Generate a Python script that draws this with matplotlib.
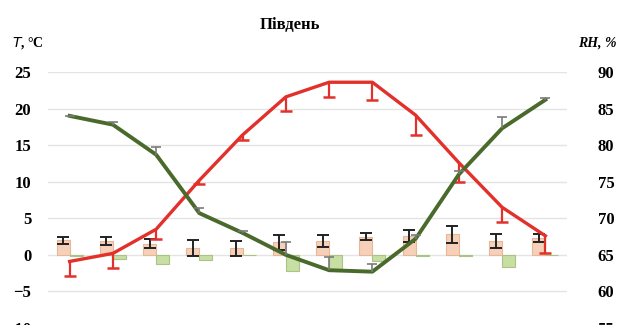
import matplotlib
matplotlib.use("Agg")
import matplotlib.pyplot as plt
import numpy as np

months = list(range(12))
temp = [-0.9, 0.2, 3.5, 10.2, 16.4, 21.6, 23.6, 23.6, 19.1, 12.6, 6.5, 2.6]
temp_err = [2.0, 2.0, 1.3, 0.5, 0.7, 2.0, 2.0, 2.4, 2.7, 2.6, 2.0, 2.4]
rh = [84.0, 82.8, 78.7, 70.7, 68.0, 65.0, 62.9, 62.7, 67.2, 76.0, 82.3, 86.2]
rh_err = [0.0, 0.4, 1.0, 0.7, 0.3, 1.8, 1.8, 1.0, 0.5, 0.5, 1.6, 0.2]
bar_a = [2.0, 1.9, 1.5, 0.9, 0.9, 1.7, 1.9, 2.5, 2.6, 2.8, 1.9, 2.3]
bar_a_err = [0.5, 0.6, 0.6, 1.1, 1.0, 1.0, 0.8, 0.5, 0.8, 1.2, 0.9, 0.6]
bar_b = [-0.1, -0.5, -1.2, -0.7, -0.05, -2.2, -2.1, -0.9, -0.1, -0.1, -1.6, -0.05]
left_ticks = [-10, -5, 0, 5, 10, 15, 20, 25]
right_ticks = [55, 60, 65, 70, 75, 80, 85, 90]

RED = "#e2302b"
GREEN = "#4a6a2c"
serif = "Liberation Serif"

fig = plt.figure(figsize=(6.19, 3.25), dpi=100)
ax = fig.add_axes([48/619, -3/325, 519/619, 256/325])
ax2 = ax.twinx()

x = np.array(months)
ax.bar(x - 0.15, bar_a, width=0.3, color="#f6d0b8", edgecolor="#e7b79a", linewidth=0.8, zorder=2)
ax.errorbar(x - 0.15, bar_a, yerr=bar_a_err, fmt="none", ecolor="#222222", elinewidth=1.4, capsize=4, capthick=1.4, zorder=3)
ax.bar(x + 0.15, bar_b, width=0.3, color="#c8dfa4", edgecolor="#a9c485", linewidth=0.8, zorder=2)

ax.plot(x, temp, color=RED, lw=2.4, zorder=4)
eb = ax.errorbar(x, temp, yerr=[temp_err, [0]*12], fmt="none", ecolor=RED, elinewidth=1.6, capsize=4.5, capthick=1.8, zorder=4)
eb[1][1].set_visible(False)  # no cap on the zero-length upper side

ax2.plot(x, rh, color=GREEN, lw=2.8, zorder=5)
eb2 = ax2.errorbar(x, rh, yerr=[[0]*12, rh_err], fmt="none", ecolor="#7a7a7a", elinewidth=1.2, capsize=3.5, capthick=1.2, zorder=5)
eb2[1][0].set_visible(False)

ax.set_xlim(-0.5, 11.5)
ax.set_ylim(-10, 25)
ax2.set_ylim(55, 90)
ax.set_yticks(left_ticks)
ax.set_yticklabels(["\u221210" if t == -10 else "\u22125" if t == -5 else str(t) for t in left_ticks])
ax2.set_yticks(right_ticks)
ax.set_xticks([])
ax.grid(axis="y", color="#e4e4e4", lw=1.0, zorder=0)
ax.set_axisbelow(True)
for a in (ax, ax2):
    for s in a.spines.values():
        s.set_visible(False)
ax.tick_params(axis="y", length=0, pad=12)
ax2.tick_params(axis="y", length=0, pad=22)
for lab in ax.get_yticklabels() + ax2.get_yticklabels():
    lab.set_fontfamily(serif)
    lab.set_fontweight("bold")
    lab.set_fontsize(12)

fig.text(290/619, 1 - 25/325, "Південь", ha="center", va="center", family=serif, weight="bold", fontsize=12)
fig.text(12/619, 1 - 43/325, r"$\mathbf{\mathit{T}}$, °C", ha="left", va="center", family=serif, weight="bold", fontsize=10)
fig.text(617/619, 1 - 43/325, "RH, %", ha="right", va="center", family=serif, weight="bold", style="italic", fontsize=10)

fig.savefig("out.png", dpi=100)
